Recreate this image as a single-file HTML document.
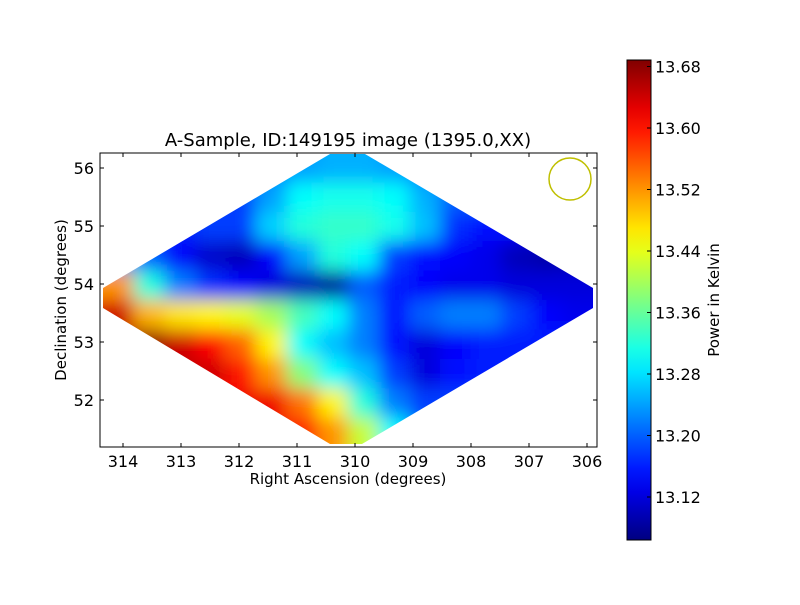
<!DOCTYPE html>
<html><head><meta charset="utf-8">
<style>
body{margin:0;background:#fff;}
svg text{font-family:"DejaVu Sans","Liberation Sans",sans-serif;fill:#000;}
</style></head>
<body>
<svg id="chart" width="800" height="600" viewBox="0 0 800 600" xmlns="http://www.w3.org/2000/svg">
<defs>
<filter id="blur" x="-20%" y="-20%" width="140%" height="140%"><feGaussianBlur stdDeviation="9"/></filter>
<clipPath id="dclip"><polygon points="103,288 330,154 365,154 593,288 593,308 362,444 330,444 103,308"/></clipPath>
<linearGradient id="cbgrad" x1="0" y1="1" x2="0" y2="0"></linearGradient>
</defs>
<rect width="800" height="600" fill="#fff"/>
<g clip-path="url(#dclip)"><g id="cells" filter="url(#blur)"></g></g>
<rect x="100" y="153" width="497" height="294" fill="none" stroke="#000" stroke-width="1"/>
<circle cx="570" cy="179" r="21" fill="none" stroke="#bfbf00" stroke-width="1.5"/>
<g id="xticks"></g>
<g id="yticks"></g>
<text x="348" y="146" font-size="18" text-anchor="middle">A-Sample, ID:149195 image (1395.0,XX)</text>
<text x="348" y="484" font-size="15" text-anchor="middle">Right Ascension (degrees)</text>
<text transform="translate(66,300) rotate(-90)" font-size="15" text-anchor="middle">Declination (degrees)</text>
<rect x="627" y="60" width="24" height="480" fill="url(#cbgrad)" stroke="#000" stroke-width="1"/>
<g id="cbticks"></g>
<text transform="translate(719,300) rotate(-90)" font-size="15" text-anchor="middle">Power in Kelvin</text>
</svg>
<script>
const xTicks=[314,313,312,311,310,309,308,307,306];
const yTicks=[52,53,54,55,56];
const cbTicks=[13.12,13.20,13.28,13.36,13.44,13.52,13.60,13.68];
const vmin=13.064, vmax=13.689;
const gridRows=[
[13.2,13.2,13.2,13.2,13.2,13.22,13.24,13.25,13.25,13.24,13.22,13.2,13.2,13.2,13.2,13.2],
[13.18,13.18,13.18,13.18,13.18,13.24,13.3,13.31,13.31,13.3,13.25,13.2,13.2,13.2,13.2,13.2],
[13.16,13.16,13.16,13.18,13.18,13.27,13.32,13.33,13.33,13.31,13.26,13.17,13.15,13.15,13.15,13.15],
[13.24,13.2,13.14,13.11,13.1,13.14,13.24,13.32,13.3,13.18,13.15,13.14,13.13,13.1,13.09,13.1],
[13.52,13.32,13.22,13.17,13.14,13.12,13.1,13.08,13.2,13.16,13.14,13.13,13.13,13.12,13.12,13.12],
[13.64,13.5,13.47,13.46,13.44,13.4,13.34,13.3,13.22,13.15,13.2,13.22,13.22,13.18,13.14,13.13],
[13.66,13.68,13.64,13.61,13.55,13.46,13.3,13.26,13.22,13.15,13.12,13.14,13.16,13.16,13.16,13.16],
[13.65,13.65,13.65,13.64,13.6,13.52,13.38,13.3,13.26,13.18,13.12,13.15,13.16,13.16,13.16,13.16],
[13.62,13.62,13.62,13.62,13.62,13.62,13.54,13.46,13.32,13.22,13.18,13.18,13.18,13.18,13.18,13.18],
[13.6,13.6,13.6,13.6,13.6,13.62,13.6,13.52,13.42,13.3,13.2,13.18,13.18,13.18,13.18,13.18]
];
const NS="http://www.w3.org/2000/svg";
const xs=ra=>123+(314-ra)*58;
const ys=dec=>168+(56-dec)*58;
const cy=v=>497-(v-13.12)/0.08*61.5;
function jet(t){
  t=Math.max(0,Math.min(1,t));
  const c=x=>Math.round(255*Math.max(0,Math.min(1,x)));
  return `rgb(${c(1.5-Math.abs(4*t-3))},${c(1.5-Math.abs(4*t-2))},${c(1.5-Math.abs(4*t-1))})`;
}
const colorOf=v=>jet((v-vmin)/(vmax-vmin));
const cells=document.getElementById('cells');
const x0=103,x1=593,y0=153,y1=447;
const nC=gridRows[0].length,nR=gridRows.length;
const cw=(x1-x0)/nC,ch=(y1-y0)/nR;
gridRows.forEach((row,r)=>row.forEach((v,c)=>{
  const el=document.createElementNS(NS,'rect');
  let rx=x0+c*cw,ry=y0+r*ch,rw=cw+0.5,rh=ch+0.5;
  if(c===0){rx-=40;rw+=40;} if(c===nC-1){rw+=40;}
  if(r===0){ry-=40;rh+=40;} if(r===nR-1){rh+=40;}
  el.setAttribute('x',rx);el.setAttribute('y',ry);el.setAttribute('width',rw);el.setAttribute('height',rh);
  el.setAttribute('fill',colorOf(v));
  
  
  cells.appendChild(el);
}));
const g=document.getElementById('cbgrad');
for(let i=0;i<=20;i++){
  const s=document.createElementNS(NS,'stop');
  s.setAttribute('offset',(i/20));
  s.setAttribute('stop-color',jet(i/20));
  g.appendChild(s);
}
function line(p,x1,y1,x2,y2){const l=document.createElementNS(NS,'line');l.setAttribute('x1',x1);l.setAttribute('y1',y1);l.setAttribute('x2',x2);l.setAttribute('y2',y2);l.setAttribute('stroke','#000');p.appendChild(l);return l;}
function text(p,x,y,s,anchor,size){const t=document.createElementNS(NS,'text');t.setAttribute('x',x);t.setAttribute('y',y);t.setAttribute('text-anchor',anchor);t.setAttribute('font-size',size);t.textContent=s;p.appendChild(t);return t;}
const gx=document.getElementById('xticks');
xTicks.forEach(v=>{const x=xs(v);
  const a=line(gx,x,447,x,443);
  const b=line(gx,x,153,x,157);
  const t=text(gx,x,467,String(v),'middle',16);});
const gy=document.getElementById('yticks');
yTicks.forEach(v=>{const y=ys(v);
  const a=line(gy,100,y,104,y);
  const b=line(gy,597,y,593,y);
  const t=text(gy,94,y+6,String(v),'end',16);});
const gc=document.getElementById('cbticks');
cbTicks.forEach(v=>{const y=cy(v);
  const a=line(gc,651,y,647,y);
  const t=text(gc,655,y+6,v.toFixed(2),'start',16);});
</script>
</body></html>
